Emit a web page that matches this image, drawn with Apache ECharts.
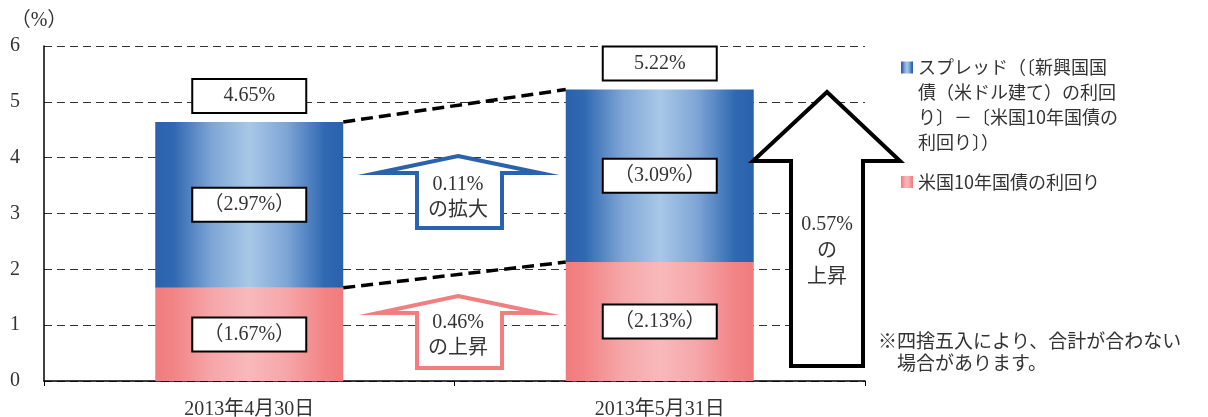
<!DOCTYPE html>
<html><head><meta charset="utf-8">
<script src="https://cdn.jsdelivr.net/npm/echarts@6/dist/echarts.min.js"></script>
<style>html,body{margin:0;padding:0;background:#fff}#c{width:1208px;height:417px}</style>
</head><body><div id="c"></div>
<script>
// ---- data ----
const categories = ['2013年4月30日', '2013年5月31日'];
const usYield = [1.67, 2.13];          // 米国10年国債の利回り
const spread = [2.97, 3.09];           // スプレッド
const totals = [4.65, 5.22];           // 新興国国債（米ドル建て）の利回り
const yTicks = { min: 0, max: 6, step: 1 };
const spreadName = 'スプレッド（〔新興国国債（米ドル建て）の利回り〕－〔米国10年国債の利回り〕）';
const yieldName = '米国10年国債の利回り';
const spreadLegendLines = ['スプレッド（〔新興国国', '債（米ドル建て）の利回', 'り〕－〔米国10年国債の', '利回り〕）'];
const spreadChangeText = ['0.11%', 'の拡大'];
const yieldChangeText = ['0.46%', 'の上昇'];
const totalChangeText = ['0.57%', 'の', '上昇'];
const noteLines = ['※四捨五入により、合計が合わない', '　場合があります。'];

// ---- style ----
const SERIF = "'Liberation Serif','Noto Sans CJK JP',serif";
const SANS = "'Noto Sans CJK JP','Noto Sans',sans-serif";
const barFrac = 0.458;
const blueGrad = { type: 'linear', x: 0, y: 0, x2: 1, y2: 0, colorStops: [
  { offset: 0, color: '#2A61AD' }, { offset: 0.1, color: '#3069B2' }, { offset: 0.3, color: '#7EA5D6' },
  { offset: 0.5, color: '#A8C8E7' }, { offset: 0.7, color: '#7EA5D6' }, { offset: 0.9, color: '#3069B2' },
  { offset: 1, color: '#2A61AD' } ] };
const redGrad = { type: 'linear', x: 0, y: 0, x2: 1, y2: 0, colorStops: [
  { offset: 0, color: '#F07C7D' }, { offset: 0.1, color: '#F28486' }, { offset: 0.3, color: '#F6A6A8' },
  { offset: 0.5, color: '#F8B9BB' }, { offset: 0.7, color: '#F6A6A8' }, { offset: 0.9, color: '#F28486' },
  { offset: 1, color: '#F07C7D' } ] };
const boxLabel = {
  show: true, fontFamily: SERIF, fontSize: 20, color: '#333',
  backgroundColor: '#fff', borderColor: '#000', borderWidth: 2,
  width: 112, height: 32, lineHeight: 32, padding: 0,
  align: 'center', textBorderWidth: 0
};

const chart = echarts.init(document.getElementById('c'), null, { renderer: 'canvas' });

function arrow(pts, color) {
  return { type: 'polygon', z: 100, shape: { points: pts },
    style: { fill: '#fff', stroke: color, lineWidth: 4, lineJoin: 'miter' } };
}
function txt(s, x, y, font, align) {
  return { type: 'text', z: 101, x: x, y: y,
    style: { text: s, font: font, fill: '#333', align: align || 'center', verticalAlign: 'middle' } };
}

const serifFont = "20px 'Liberation Serif','Noto Sans CJK JP',serif";
const graphics = [
  arrow([[458,156],[540,173],[502,173],[502,228],[417,228],[417,173],[377,173]], '#2B62AE'),
  txt(spreadChangeText[0], 458, 185, serifFont), txt(spreadChangeText[1], 458, 211, serifFont),
  arrow([[458,296],[540,313],[502,313],[502,368],[417,368],[417,313],[378,313]], '#F07F80'),
  txt(yieldChangeText[0], 458, 323, serifFont), txt(yieldChangeText[1], 458, 349, serifFont),
  arrow([[827,92],[900,161],[863,161],[863,366],[791,366],[791,161],[753,161]], '#000'),
  txt(totalChangeText[0], 827, 225, serifFont), txt(totalChangeText[1], 827, 252, serifFont),
  txt(totalChangeText[2], 827, 278, serifFont),
  { type: 'text', z: 101, x: 878, y: 330,
    style: { text: noteLines.join('\n'), font: "19px 'Noto Sans CJK JP',sans-serif", fill: '#333',
      lineHeight: 22, align: 'left', verticalAlign: 'top' } }
];

const option = {
  animation: false,
  backgroundColor: '#fff',
  grid: { left: 44, right: 343, top: 46, bottom: 36, containLabel: false, outerBoundsMode: 'none' },
  legend: {
    orient: 'vertical', left: 901, top: -20, padding: 0, itemGap: 14.5,
    itemWidth: 12, itemHeight: 12, icon: 'rect',
    selectedMode: false,
    textStyle: { fontFamily: SANS, fontSize: 18, color: '#333', lineHeight: 25 },
    formatter: function (n) { return n === spreadName ? '\n\n\n' + spreadLegendLines.join('\n') : n; },
    data: [ { name: spreadName }, { name: yieldName } ]
  },
  xAxis: [
    { type: 'category', data: categories,
      axisLine: { lineStyle: { color: '#000', width: 1.5 } },
      axisTick: { show: true, length: 5, lineStyle: { color: '#000' } },
      axisLabel: { fontFamily: SERIF, fontSize: 20, color: '#333', margin: 19 } },
    { type: 'value', min: 0, max: categories.length, show: false }
  ],
  yAxis: {
    type: 'value', min: yTicks.min, max: yTicks.max, interval: yTicks.step,
    name: '（%）', nameLocation: 'end', nameGap: 15,
    nameTextStyle: { fontFamily: SERIF, fontSize: 20, color: '#333', padding: [0, 10, 0, 0] },
    axisLine: { show: true, lineStyle: { color: '#000', width: 1.5 } },
    axisTick: { show: false },
    axisLabel: { fontFamily: SERIF, fontSize: 20, color: '#333', margin: 24 },
    splitLine: { lineStyle: { color: '#333', width: 1, type: [8, 5] } }
  },
  series: [
    { name: yieldName, type: 'bar', stack: 'total', barWidth: (barFrac * 100) + '%', data: usYield,
      itemStyle: { color: redGrad },
      label: Object.assign({}, boxLabel, { position: 'inside',
        formatter: function (p) { return '（' + p.value.toFixed(2) + '%）'; } }) },
    { name: spreadName, type: 'bar', stack: 'total', barWidth: (barFrac * 100) + '%', data: spread,
      itemStyle: { color: blueGrad },
      label: Object.assign({}, boxLabel, { position: 'inside',
        formatter: function (p) { return '（' + p.value.toFixed(2) + '%）'; } }) },
    { name: 'total', type: 'bar', stack: 'total', barWidth: (barFrac * 100) + '%',
      data: totals.map(function () { return 0; }),
      itemStyle: { color: 'rgba(0,0,0,0)' },
      label: Object.assign({}, boxLabel, { position: 'top', distance: 10,
        formatter: function (p) { return totals[p.dataIndex].toFixed(2) + '%'; } }) },
    { name: 'link-top', type: 'line', xAxisIndex: 1, symbol: 'none', z: 5, silent: true,
      data: [[0.5 + barFrac / 2, usYield[0] + spread[0]], [1.5 - barFrac / 2, usYield[1] + spread[1]]],
      lineStyle: { color: '#000', width: 3.5, type: [12, 6] } },
    { name: 'link-bottom', type: 'line', xAxisIndex: 1, symbol: 'none', z: 5, silent: true,
      data: [[0.5 + barFrac / 2, usYield[0]], [1.5 - barFrac / 2, usYield[1]]],
      lineStyle: { color: '#000', width: 3.5, type: [12, 6] } }
  ],
  graphic: graphics
};
chart.setOption(option);
</script>
</body></html>
